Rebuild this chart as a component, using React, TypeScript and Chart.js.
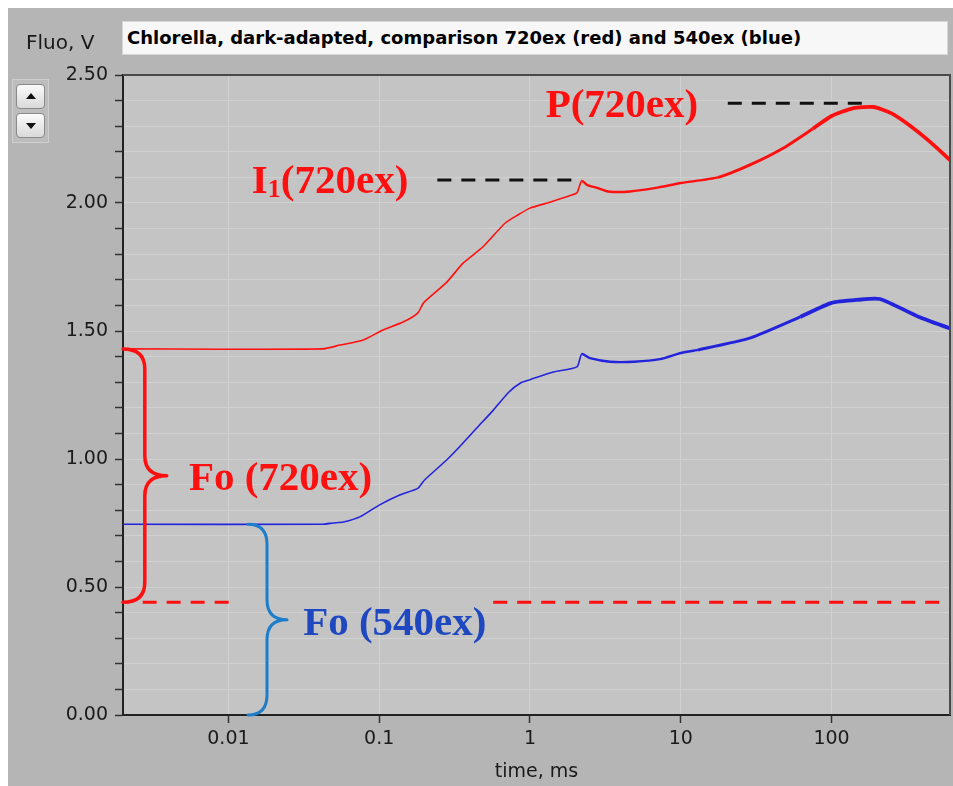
import React, { useEffect, useRef } from 'react';
import { Chart, registerables } from 'chart.js';

Chart.register(...registerables);

// ---------- data ----------
const xTickValues = [0.01, 0.1, 1, 10, 100];
const xTickLabels = ['0.01', '0.1', '1', '10', '100'];
const yMajorStep = 0.5;

const redTimes = [0.002, 0.042, 0.055, 0.0785, 0.106, 0.144, 0.18, 0.197, 0.28, 0.36, 0.49, 0.68, 0.83, 1.0, 1.37, 1.87, 2.05, 2.2, 2.4, 2.76, 3.3, 4.6, 7, 10, 17.6, 29, 48, 75, 100, 138, 190, 250, 340, 460, 610];
const redValues = [1.43, 1.43, 1.445, 1.465, 1.504, 1.535, 1.57, 1.61, 1.69, 1.765, 1.83, 1.92, 1.953, 1.98, 2.004, 2.03, 2.04, 2.086, 2.07, 2.06, 2.045, 2.045, 2.06, 2.078, 2.1, 2.15, 2.215, 2.29, 2.34, 2.37, 2.375, 2.35, 2.297, 2.234, 2.168];

const blueTimes = [0.002, 0.042, 0.0495, 0.058, 0.075, 0.1, 0.138, 0.18, 0.2, 0.28, 0.34, 0.45, 0.57, 0.72, 0.865, 1.0, 1.43, 2.05, 2.2, 2.5, 3.4, 4.9, 7.3, 10, 13, 29, 62, 100, 150, 209, 380, 610];
const blueValues = [0.745, 0.745, 0.75, 0.754, 0.775, 0.82, 0.86, 0.885, 0.918, 0.996, 1.047, 1.125, 1.19, 1.26, 1.297, 1.31, 1.34, 1.36, 1.41, 1.394, 1.38, 1.38, 1.39, 1.414, 1.426, 1.473, 1.555, 1.61, 1.622, 1.625, 1.555, 1.51];

// reference (dashed) levels
const foRedLevel = 0.44;
const foRedDashLeft = [0.0027, 0.0114];
const foRedDashRight = [0.57, 600];
const pLevel = 2.39;
const pDash = [20.5, 164];
const i1Level = 2.09;
const i1Dash = [0.243, 2.0];

// braces: x = [end, stem, tip], y = [top, bottom]
const redBraceX = [0.002, 0.00279, 0.0039];
const redBraceY = [1.43, 0.44];
const blueBraceX = [0.01349, 0.01803, 0.02449];
const blueBraceY = [0.745, 0];

// annotation text anchors (left x in ms, baseline y in V)
const pLabelAt = [1.27, 2.336];
const i1LabelAt = [0.0143, 2.039];
const fo720LabelAt = [0.00547, 0.879];
const fo540LabelAt = [0.0313, 0.3125];

// ---------- styles ----------
const FRAME_BG = '#B5B5B5';
const PLOT_BG = '#C4C4C4';
const GRID = '#D1D1D1';
const RED = '#FF1010';
const BLUE = '#2323DC';
const LABEL_FONT = '"DejaVu Sans", Tahoma, sans-serif';
const SERIF = '"Liberation Serif", "Times New Roman", serif';

const pts = (xs: number[], ys: number[]) => xs.map((x, i) => ({ x, y: ys[i] }));

const widthFor = (x: number) => (x < 2.1 ? 1.6 : x < 12 ? 2.4 : x < 50 ? 3 : 3.8);

function drawBrace(ctx: CanvasRenderingContext2D, xEnd: number, xStem: number, xTip: number, yTop: number, yBot: number) {
  const ym = (yTop + yBot) / 2;
  const r = Math.min(20, (yBot - yTop) / 6);
  ctx.beginPath();
  ctx.moveTo(xEnd, yTop);
  ctx.quadraticCurveTo(xStem, yTop, xStem, yTop + r);
  ctx.lineTo(xStem, ym - r);
  ctx.quadraticCurveTo(xStem, ym, xTip, ym);
  ctx.quadraticCurveTo(xStem, ym, xStem, ym + r);
  ctx.lineTo(xStem, yBot - r);
  ctx.quadraticCurveTo(xStem, yBot, xEnd, yBot);
  ctx.stroke();
}

const decorPlugin = {
  id: 'decor',
  beforeDraw(chart: any) {
    const { ctx, chartArea } = chart;
    ctx.save();
    ctx.fillStyle = PLOT_BG;
    ctx.fillRect(chartArea.left, chartArea.top, chartArea.right - chartArea.left, chartArea.bottom - chartArea.top);
    ctx.restore();
  },
  afterDatasetsDraw(chart: any) {
    const { ctx } = chart;
    const xs = chart.scales.x;
    const ys = chart.scales.y;
    const X = (v: number) => xs.getPixelForValue(v);
    const Y = (v: number) => ys.getPixelForValue(v);
    ctx.save();
    ctx.lineCap = 'round';
    ctx.lineJoin = 'round';
    // red brace
    ctx.strokeStyle = RED;
    ctx.lineWidth = 3.5;
    drawBrace(ctx, X(redBraceX[0]), X(redBraceX[1]), X(redBraceX[2]), Y(redBraceY[0]), Y(redBraceY[1]));
    // blue brace
    ctx.strokeStyle = '#1C7DCB';
    ctx.lineWidth = 3;
    drawBrace(ctx, X(blueBraceX[0]), X(blueBraceX[1]), X(blueBraceX[2]), Y(blueBraceY[0]), Y(blueBraceY[1]));

    // texts
    ctx.textBaseline = 'alphabetic';
    ctx.textAlign = 'left';
    const big = `bold 41px ${SERIF}`;
    const sub = `bold 26px ${SERIF}`;
    ctx.fillStyle = RED;
    ctx.font = big;
    ctx.fillText('P(720ex)', X(pLabelAt[0]), Y(pLabelAt[1]));
    // I1(720ex)
    let ix = X(i1LabelAt[0]);
    const iy = Y(i1LabelAt[1]);
    ctx.font = big;
    ctx.fillText('I', ix, iy);
    ix += ctx.measureText('I').width;
    ctx.font = sub;
    ctx.fillText('1', ix, iy + 4);
    ix += ctx.measureText('1').width;
    ctx.font = big;
    ctx.fillText('(720ex)', ix, iy);
    ctx.fillText('Fo (720ex)', X(fo720LabelAt[0]), Y(fo720LabelAt[1]));
    ctx.fillStyle = '#1F48C0';
    ctx.fillText('Fo (540ex)', X(fo540LabelAt[0]), Y(fo540LabelAt[1]));
    ctx.restore();
  },
  afterDraw(chart: any) {
    const { ctx, chartArea } = chart;
    ctx.save();
    ctx.strokeStyle = '#4A4A4A';
    ctx.lineWidth = 2;
    ctx.beginPath();
    ctx.moveTo(chartArea.left, chartArea.top);
    ctx.lineTo(chartArea.right, chartArea.top);
    ctx.lineTo(chartArea.right, chartArea.bottom);
    ctx.stroke();
    ctx.restore();
  },
};

const tickFont = { family: LABEL_FONT, size: 19 };

export default function App() {
  const canvasRef = useRef<HTMLCanvasElement | null>(null);

  useEffect(() => {
    const canvas = canvasRef.current;
    if (!canvas) return;
    const dashed = (xsArr: number[], level: number, color: string) => ({
      data: xsArr.map((x) => ({ x, y: level })),
      borderColor: color,
      borderWidth: 3,
      borderDash: [14, 10],
      pointRadius: 0,
      fill: false,
      tension: 0,
    });
    const chart = new Chart(canvas, {
      type: 'line',
      data: {
        datasets: [
          dashed(foRedDashLeft, foRedLevel, RED) as any,
          dashed(foRedDashRight, foRedLevel, RED) as any,
          dashed(pDash, pLevel, '#111111') as any,
          dashed(i1Dash, i1Level, '#111111') as any,
          {
            data: pts(blueTimes, blueValues),
            borderColor: BLUE,
            borderWidth: 1.6,
            pointRadius: 0,
            tension: 0.2,
            segment: { borderWidth: (c: any) => widthFor(c.p0.parsed.x) },
          } as any,
          {
            data: pts(redTimes, redValues),
            borderColor: RED,
            borderWidth: 1.6,
            pointRadius: 0,
            tension: 0.2,
            segment: { borderWidth: (c: any) => widthFor(c.p0.parsed.x) },
          } as any,
        ],
      },
      options: {
        animation: false,
        responsive: false,
        maintainAspectRatio: false,
        devicePixelRatio: 1,
        parsing: false as any,
        normalized: true,
        layout: { padding: { top: 67, right: 3, left: 0, bottom: 0 } },
        plugins: { legend: { display: false }, tooltip: { enabled: false }, title: { display: false } },
        elements: { point: { radius: 0 } },
        scales: {
          x: {
            type: 'logarithmic',
            min: 0.002,
            max: 610,
            position: 'bottom',
            afterBuildTicks: (s: any) => {
              s.ticks = xTickValues.map((v) => ({ value: v }));
            },
            afterFit: (s: any) => {
              s.height = 71;
            },
            ticks: {
              autoSkip: false,
              maxRotation: 0,
              padding: 5,
              color: '#1A1A1A',
              font: tickFont,
              callback: (_v: any, i: number) => xTickLabels[i],
            },
            grid: { color: GRID, lineWidth: 1, tickColor: '#333333', tickLength: 8, tickWidth: 1.5 },
            border: { display: true, color: '#222222', width: 2 },
            title: {
              display: true,
              text: 'time, ms',
              color: '#1A1A1A',
              font: { family: LABEL_FONT, size: 19, lineHeight: 1.2 },
              padding: { top: 0, bottom: 3 },
            },
          },
          y: {
            type: 'linear',
            min: 0,
            max: 2.5,
            afterFit: (s: any) => {
              s.width = 115;
            },
            ticks: {
              stepSize: 0.1,
              autoSkip: false,
              padding: 7,
              color: '#1A1A1A',
              font: tickFont,
              callback: (v: any) => {
                const n = Number(v);
                const k = n / yMajorStep;
                return Math.abs(k - Math.round(k)) < 1e-6 ? n.toFixed(2) : '';
              },
            },
            grid: { color: GRID, lineWidth: 1, tickColor: '#333333', tickLength: 8, tickWidth: 1.5 },
            border: { display: true, color: '#222222', width: 2 },
          },
        },
      } as any,
      plugins: [decorPlugin],
    });
    return () => chart.destroy();
  }, []);

  const btn: React.CSSProperties = {
    position: 'absolute',
    left: 3,
    width: 29,
    height: 25,
    boxSizing: 'border-box',
    border: '1px solid #8a8a8a',
    borderRadius: 4,
    background: 'linear-gradient(#fbfbfb, #d9d9d9)',
  };

  return (
    <div
      style={{
        position: 'absolute',
        left: 8,
        top: 8,
        width: 945,
        height: 778,
        background: FRAME_BG,
        overflow: 'hidden',
      }}
    >
      <canvas ref={canvasRef} width={945} height={778} style={{ position: 'absolute', left: 0, top: 0, display: 'block' }} />
      <div
        style={{
          position: 'absolute',
          left: 18,
          top: 22,
          font: `20px ${LABEL_FONT}`,
          lineHeight: '24px',
          color: '#1A1A1A',
          whiteSpace: 'nowrap',
        }}
      >
        Fluo, V
      </div>
      <div
        style={{
          position: 'absolute',
          left: 114,
          top: 13,
          width: 826,
          height: 34,
          boxSizing: 'border-box',
          background: '#F7F7F7',
          border: '1px solid #d6d6d6',
          paddingLeft: 4,
          font: `bold 18px ${LABEL_FONT}`,
          lineHeight: '32px',
          color: '#000',
          whiteSpace: 'nowrap',
        }}
      >
        Chlorella, dark-adapted, comparison 720ex (red) and 540ex (blue)
      </div>
      <div
        style={{
          position: 'absolute',
          left: 4,
          top: 71,
          width: 37,
          height: 64,
          boxSizing: 'border-box',
          border: '1px solid #cfcfcf',
          background: '#BDBDBD',
        }}
      >
        <div style={{ ...btn, top: 4 }}>
          <div
            style={{
              position: 'absolute',
              left: 9,
              top: 8,
              width: 0,
              height: 0,
              borderLeft: '5px solid transparent',
              borderRight: '5px solid transparent',
              borderBottom: '6px solid #111',
            }}
          />
        </div>
        <div style={{ ...btn, top: 33 }}>
          <div
            style={{
              position: 'absolute',
              left: 9,
              top: 9,
              width: 0,
              height: 0,
              borderLeft: '5px solid transparent',
              borderRight: '5px solid transparent',
              borderTop: '6px solid #111',
            }}
          />
        </div>
      </div>
    </div>
  );
}
